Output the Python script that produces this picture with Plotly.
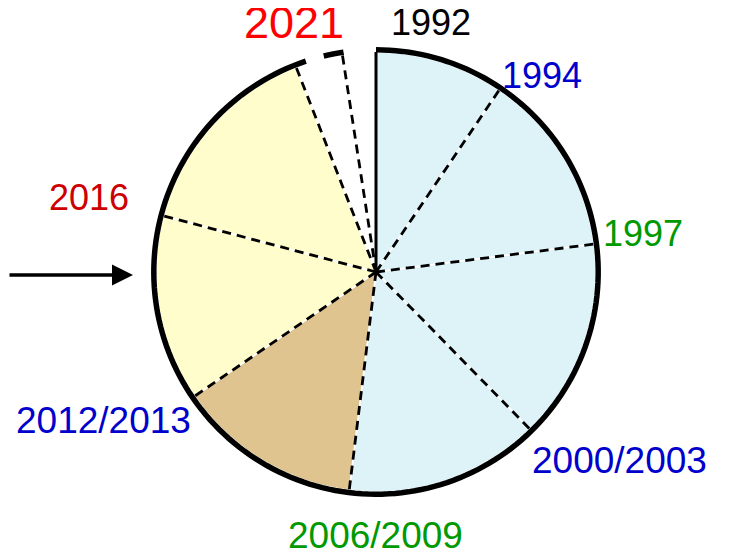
import numpy as np
import plotly.graph_objects as go

# slice sizes in degrees, clockwise from 12 o'clock
slice_names = ["1992-1994", "1994-1997", "1997-2000", "2000-2006", "2006-2012",
               "2012-2016", "2016-2021", "2021-a", "2021-b"]
slice_deg = [34.1, 48.6, 52.9, 51.4, 48.6, 49.2, 53.9, 12.5, 8.8]
slice_colors = ["#DDF3F8", "#DDF3F8", "#DDF3F8", "#DDF3F8", "#DFC48F",
                "#FFFDCC", "#FFFDCC", "#FFFFFF", "#FFFFFF"]

# labels at slice boundaries
labels = ["1992", "1994", "1997", "2000/2003", "2006/2009", "2012/2013", "2016", "2021"]
label_colors = ["#000000", "#0000CC", "#009900", "#0000CC", "#009900", "#0000CC", "#CC0000", "#FF0000"]
label_xy = [(431, 23), (542, 76), (643, 233), (619, 460), (376, 535), (103, 420), (89, 197), (294, 23)]
label_size = [36, 36, 36, 37, 37, 37, 36, 45]

# outline arcs (degrees) - gap near the top
outline_arcs = [(0, 341.6), (346.4, 351.6)]

W, H = 729, 555
OFF = 8  # page body margin
cx, cy, R = 376 - OFF, 272 - OFF, 220
RMAX = 1.03
Rd = R * RMAX

bounds = np.concatenate([[0], np.cumsum(slice_deg)])
mids = (bounds[:-1] + bounds[1:]) / 2

fig = go.Figure()

fig.add_trace(go.Barpolar(
    r=[1] * len(slice_deg), theta=mids, width=slice_deg,
    marker=dict(color=slice_colors, line=dict(color="white", width=1.5)),
    showlegend=False, hoverinfo="skip"))

# dashed dividers
for b in bounds[1:-1]:
    fig.add_trace(go.Scatterpolar(
        r=[0, 1], theta=[b, b], mode="lines",
        line=dict(color="black", width=2.8, dash="9px,6px"),
        showlegend=False, hoverinfo="skip"))

# solid line at 12 o'clock
fig.add_trace(go.Scatterpolar(
    r=[0, 1], theta=[0, 0], mode="lines",
    line=dict(color="black", width=3), showlegend=False, hoverinfo="skip"))

for a0, a1 in outline_arcs:
    th = np.linspace(a0, a1, 200)
    fig.add_trace(go.Scatterpolar(
        r=np.ones_like(th) * 1.01, theta=th, mode="lines",
        line=dict(color="black", width=5.5), showlegend=False, hoverinfo="skip"))

annotations = []
for t, c, (x, y), s in zip(labels, label_colors, label_xy, label_size):
    annotations.append(dict(
        text=t, x=(x - OFF) / W, y=1 - (y - OFF) / H, xref="paper", yref="paper",
        xanchor="center", yanchor="middle", showarrow=False,
        font=dict(family="Arial, Liberation Sans", size=s, color=c)))

# arrow on the left
annotations.append(dict(
    text="", x=(133 - OFF) / W, y=1 - (275 - OFF) / H, xref="paper", yref="paper",
    ax=-150, ay=0, showarrow=True, arrowhead=2, arrowsize=1.2,
    arrowwidth=3.5, arrowcolor="black", standoff=0))

fig.update_layout(
    width=W, height=H,
    margin=dict(l=0, r=0, t=0, b=0),
    paper_bgcolor="white", plot_bgcolor="white",
    polar=dict(
        domain=dict(x=[(cx - Rd) / W, (cx + Rd) / W], y=[1 - (cy + Rd) / H, 1 - (cy - Rd) / H]),
        bgcolor="white",
        bargap=0,
        radialaxis=dict(range=[0, RMAX], visible=False, showgrid=False),
        angularaxis=dict(rotation=90, direction="clockwise", visible=False,
                         showgrid=False, showline=False, ticks=""),
    ),
    annotations=annotations,
)

fig.write_html("out.html")
